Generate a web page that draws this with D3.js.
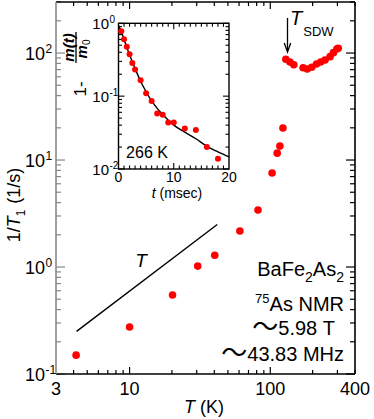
<!DOCTYPE html>
<html><head><meta charset="utf-8">
<script src="https://cdn.jsdelivr.net/npm/d3@7"></script>
<style>
html,body{margin:0;padding:0;background:#fff;}
svg{display:block;font-family:"Liberation Sans",Arial,sans-serif;}
</style></head>
<body>
<svg id="c" width="374" height="419"></svg>
<script>
// ---- data ----
const mainT = [4.17, 10, 20.2, 30.5, 40.3, 60.8, 81.8, 103, 112, 117, 123, 129, 138, 147, 171, 183, 197, 213, 228, 245, 266, 281, 297, 304];
const mainRate = [0.15, 0.275, 0.547, 1.02, 1.29, 2.17, 3.41, 7.57, 11.6, 13.5, 19.9, 87.4, 82.4, 77.8, 72.9, 70.9, 73.6, 79.0, 82.4, 86.1, 92.5, 100.8, 109, 111];
const guideT = [4.2, 42];
const guideRate = [0.25, 2.5];
const insetTime = [0.5, 1, 1.5, 2, 2.5, 3, 4, 5, 6, 7, 8, 9, 10, 12, 14, 16, 18];
const insetM = [0.776, 0.603, 0.477, 0.375, 0.285, 0.233, 0.165, 0.110, 0.086, 0.058, 0.0556, 0.0436, 0.0436, 0.0361, 0.0342, 0.020, 0.0138];
const fitTime = [0, 0.5, 1, 1.5, 2, 3, 4, 5, 6, 7, 8, 10, 12, 14, 16, 18, 20];
const fitM = [0.93, 0.77, 0.60, 0.47, 0.37, 0.24, 0.16, 0.115, 0.086, 0.068, 0.056, 0.040, 0.032, 0.026, 0.0205, 0.0172, 0.0147];
const xTickLabels = [3, 10, 100, 400];
const yTickExps = [-1, 0, 1, 2];
const insetXTicks = [0, 10, 20];
const insetYExps = [-2, -1, 0];

const svg = d3.select("#c");
const RED = "#ff0000";

// ---- main scales ----
const L = 56, R = 355, T = 2, B = 374;
const x = d3.scaleLog().domain([3, 400]).range([L, R]);
const y = d3.scaleLog().domain([0.1, 300]).range([B, T]);

const xMinor = [4,5,6,7,8,9,20,30,40,50,60,70,80,90,200,300,400];
const yMinor = [0.2,0.3,0.4,0.5,0.6,0.7,0.8,0.9,2,3,4,5,6,7,8,9,20,30,40,50,60,70,80,90,200,300];
const xMajor = [10, 100];
const yMajor = yTickExps.map(e => Math.pow(10, e));

const g = svg.append("g");
function vt(v, len, top, col) {
  const xx = x(v);
  g.append("line").attr("x1", xx).attr("x2", xx)
    .attr("y1", top ? T : B).attr("y2", top ? T + len : B - len)
    .attr("stroke", col).attr("stroke-width", 1.2);
}
function ht(v, len, left, col) {
  const yy = y(v);
  g.append("line").attr("y1", yy).attr("y2", yy)
    .attr("x1", left ? L : R).attr("x2", left ? L + len : R - len)
    .attr("stroke", col).attr("stroke-width", 1.2);
}
xMinor.forEach(v => { vt(v, 4, false, "#000"); vt(v, 4, true, "#000"); });
xMajor.forEach(v => { vt(v, 7, false, "#000"); vt(v, 7, true, "#000"); });
yMinor.forEach(v => { ht(v, 5, true, "#888"); ht(v, 5, false, "#000"); });
yMajor.forEach(v => { ht(v, 9, true, "#888"); ht(v, 9, false, "#000"); });

// frame
g.append("line").attr("x1", L).attr("x2", R).attr("y1", B).attr("y2", B).attr("stroke", "#000").attr("stroke-width", 1.6);
g.append("line").attr("x1", L).attr("x2", R).attr("y1", T).attr("y2", T).attr("stroke", "#000").attr("stroke-width", 1.6);
g.append("line").attr("x1", R).attr("x2", R).attr("y1", T).attr("y2", B).attr("stroke", "#000").attr("stroke-width", 1.6);
g.append("line").attr("x1", L).attr("x2", L).attr("y1", T).attr("y2", B).attr("stroke", "#888").attr("stroke-width", 1.6);

// x tick labels
xTickLabels.forEach(v => {
  g.append("text").attr("x", x(v)).attr("y", 395).attr("text-anchor", "middle")
    .attr("font-size", 18).text(v);
});
// y tick labels
yTickExps.forEach(e => {
  const yy = y(Math.pow(10, e));
  g.append("text").attr("x", 45).attr("y", yy + 7).attr("text-anchor", "end").attr("font-size", 18).text("10");
  g.append("text").attr("x", 45.5).attr("y", yy).attr("text-anchor", "start").attr("font-size", 12).text(e < 0 ? "-" + Math.abs(e) : e);
});

// axis titles
const xt = g.append("text").attr("x", 204).attr("y", 413).attr("text-anchor", "middle").attr("font-size", 18);
xt.append("tspan").attr("font-style", "italic").text("T");
xt.append("tspan").text(" (K)");

const yt = g.append("text").attr("transform", "translate(20,205) rotate(-90)").attr("text-anchor", "middle").attr("font-size", 18);
yt.append("tspan").text("1/");
yt.append("tspan").attr("font-style", "italic").text("T");
yt.append("tspan").attr("font-size", 12).attr("dy", 5).text("1");
yt.append("tspan").attr("dy", -5).attr("dx", 6).text("(1/s)");

// guide line
g.append("line").attr("x1", x(guideT[0])).attr("y1", y(guideRate[0]))
  .attr("x2", x(guideT[1])).attr("y2", y(guideRate[1])).attr("stroke", "#000").attr("stroke-width", 1.4);
g.append("text").attr("x", 141).attr("y", 267).attr("text-anchor", "middle").attr("font-size", 19)
  .attr("font-style", "italic").text("T");

// data points
g.selectAll("circle.m").data(mainT.map((t, i) => [t, mainRate[i]])).enter()
  .append("circle").attr("class", "m").attr("cx", d => x(d[0])).attr("cy", d => y(d[1]))
  .attr("r", 3.8).attr("fill", RED);

// T_SDW annotation
const ax = 287.5;
g.append("line").attr("x1", ax).attr("x2", ax).attr("y1", 18).attr("y2", 51).attr("stroke", "#000").attr("stroke-width", 1.3);
g.append("path").attr("d", `M${ax-3.2},${43} L${ax},${52} L${ax+3.2},${43}`).attr("fill", "none").attr("stroke", "#000").attr("stroke-width", 1.3);
const ts = g.append("text").attr("x", 290).attr("y", 25).attr("font-size", 20);
ts.append("tspan").attr("font-style", "italic").text("T");
ts.append("tspan").attr("font-size", 13).attr("dy", 11).attr("dx", 1).text("SDW");

// text block
const tb = g.append("g").attr("font-size", 20).attr("text-anchor", "end");
const l1 = tb.append("text").attr("x", 344).attr("y", 276);
l1.append("tspan").text("BaFe");
l1.append("tspan").attr("font-size", 14).attr("dy", 6).text("2");
l1.append("tspan").attr("dy", -6).text("As");
l1.append("tspan").attr("font-size", 14).attr("dy", 6).text("2");
const l2 = tb.append("text").attr("x", 344).attr("y", 311);
l2.append("tspan").attr("font-size", 13).attr("dy", -8).text("75");
l2.append("tspan").attr("dy", 8).text("As NMR");
const l3 = tb.append("text").attr("x", 335).attr("y", 335);
l3.append("tspan").attr("font-family", "'Noto Sans CJK JP'").attr("font-size", 26).attr("dy", 1).text("〜");
l3.append("tspan").attr("dy", -1).text("5.98 T");
const l4 = tb.append("text").attr("x", 344).attr("y", 361);
l4.append("tspan").attr("font-family", "'Noto Sans CJK JP'").attr("font-size", 26).attr("dy", 1).text("〜");
l4.append("tspan").attr("dy", -1).text("43.83 MHz");

// ---- inset ----
const iL = 118.5, iR = 229, iT = 23.3, iB = 169;
const ix = d3.scaleLinear().domain([0, 20]).range([iL, iR]);
const iy = d3.scaleLog().domain([0.01, 1]).range([iB, iT]);
const ig = svg.append("g");
ig.append("rect").attr("x", iL).attr("y", iT).attr("width", iR - iL).attr("height", iB - iT).attr("fill", "#fff");
for (let v = 1; v < 20; v++) {
  const len = (v % 10 === 0) ? 6 : 3.5;
  [[iB, -1], [iT, 1]].forEach(([yy, s]) => {
    ig.append("line").attr("x1", ix(v)).attr("x2", ix(v)).attr("y1", yy).attr("y2", yy + s * len).attr("stroke", "#000").attr("stroke-width", 1.1);
  });
}
const iyTicks = [];
[0.01, 0.1].forEach(base => { for (let k = 2; k <= 9; k++) iyTicks.push(base * k); });
iyTicks.forEach(v => {
  [[iL, 1], [iR, -1]].forEach(([xx, s]) => {
    ig.append("line").attr("y1", iy(v)).attr("y2", iy(v)).attr("x1", xx).attr("x2", xx + s * 3.5).attr("stroke", "#000").attr("stroke-width", 1.1);
  });
});
insetYExps.forEach(e => {
  const v = Math.pow(10, e);
  [[iL, 1], [iR, -1]].forEach(([xx, s]) => {
    ig.append("line").attr("y1", iy(v)).attr("y2", iy(v)).attr("x1", xx).attr("x2", xx + s * 6).attr("stroke", "#000").attr("stroke-width", 1.1);
  });
});
ig.append("rect").attr("x", iL).attr("y", iT).attr("width", iR - iL).attr("height", iB - iT).attr("fill", "none").attr("stroke", "#000").attr("stroke-width", 1.4);

// fit curve
ig.append("path").datum(fitTime.map((t, i) => [t, fitM[i]]))
  .attr("d", d3.line().x(d => ix(d[0])).y(d => iy(d[1])).curve(d3.curveMonotoneX))
  .attr("fill", "none").attr("stroke", "#000").attr("stroke-width", 1.4);
ig.selectAll("circle").data(insetTime.map((t, i) => [t, insetM[i]])).enter()
  .append("circle").attr("cx", d => ix(d[0])).attr("cy", d => iy(d[1])).attr("r", 3).attr("fill", RED);

// inset labels
insetXTicks.forEach(v => {
  ig.append("text").attr("x", ix(v)).attr("y", 182).attr("text-anchor", "middle").attr("font-size", 14).text(v);
});
insetYExps.forEach(e => {
  const yy = iy(Math.pow(10, e));
  ig.append("text").attr("x", 109).attr("y", yy + 5.5).attr("text-anchor", "end").attr("font-size", 15).text("10");
  ig.append("text").attr("x", 109.5).attr("y", yy).attr("text-anchor", "start").attr("font-size", 10).text(e < 0 ? "-" + Math.abs(e) : e);
});
const ixt = ig.append("text").attr("x", 177).attr("y", 198).attr("text-anchor", "middle").attr("font-size", 14);
ixt.append("tspan").attr("font-style", "italic").text("t");
ixt.append("tspan").text(" (msec)");
ig.append("text").attr("x", 147).attr("y", 158).attr("text-anchor", "middle").attr("font-size", 16).text("266 K");

// inset y label (rotated fraction)
const yl = ig.append("g").attr("transform", "translate(76,100) rotate(-90)");
yl.append("text").attr("x", 11).attr("y", 10).attr("text-anchor", "middle").attr("font-size", 17).text("1-");
yl.append("line").attr("x1", 37).attr("x2", 68).attr("y1", 0).attr("y2", 0).attr("stroke", "#000").attr("stroke-width", 1.3);
yl.append("text").attr("x", 52.5).attr("y", -2).attr("text-anchor", "middle").attr("font-size", 15)
  .attr("font-weight", "bold").attr("font-style", "italic").text("m(t)");
const den = yl.append("text").attr("x", 51).attr("y", 10.5).attr("text-anchor", "middle").attr("font-size", 15);
den.append("tspan").attr("font-weight", "bold").attr("font-style", "italic").text("m");
den.append("tspan").attr("font-size", 10).attr("dy", 3).text("0");
</script>
</body></html>
